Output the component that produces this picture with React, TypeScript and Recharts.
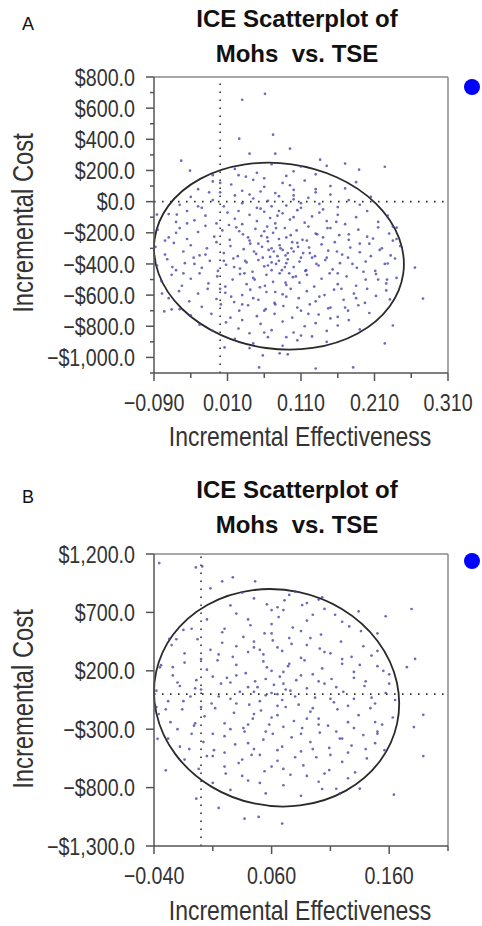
import React from 'react';
import { ScatterChart, Scatter, XAxis, YAxis, ReferenceLine, ReferenceArea, Legend } from 'recharts';

const SANS = '"Liberation Sans", Arial, sans-serif';
const SQUEEZE = 0.82;

// ---------- Panel A ----------
const xTicksA = [-0.09, -0.04, 0.01, 0.06, 0.11, 0.16, 0.21, 0.26, 0.31];
const xLabelsA = [-0.09, 0.01, 0.11, 0.21, 0.31];
const yTicksA = [-1100, -1000, -900, -800, -700, -600, -500, -400, -300, -200, -100, 0, 100, 200, 300, 400, 500, 600, 700, 800];
const yLabelsA = [-1000, -800, -600, -400, -200, 0, 200, 400, 600, 800];
const ellipseA = { x1: -0.09, x2: 0.25, y1: -950, y2: 250, angle: 8 };

const pointsA: [number, number][] = [
  [0.02, 210], [0.05, 185], [0.07, 240], [0.09, 165], [0.11, 225], [0.13, 175], [0.035, 160], [0.1, 195], [0.145, 230], [-0.01, 170],
  [-0.03, 80], [-0.01, 130], [0.0, 60], [0.015, 110], [0.03, 70], [0.045, 140], [0.06, 95], [0.075, 55], [0.085, 120], [0.1, 75], [0.115, 135], [0.13, 60], [0.15, 100], [0.17, 85], [0.185, 125], [0.055, 65], [0.095, 105],
  [-0.055, -20], [-0.04, 30], [-0.025, -40], [-0.01, 10], [0.005, -30], [0.02, 40], [0.03, -10], [0.045, 20], [0.055, -45], [0.065, 5], [0.08, 35], [0.09, -25], [0.1, 15], [0.11, -40], [0.12, 25], [0.135, -15], [0.15, 45], [0.16, -35], [0.175, 10], [0.19, -20], [0.205, 30], [0.07, -30], [0.04, 45],
  [-0.07, -80], [-0.06, -130], [-0.045, -60], [-0.035, -120], [-0.02, -90], [-0.005, -140], [0.01, -70], [0.02, -110], [0.03, -145], [0.04, -85], [0.05, -125], [0.06, -65], [0.068, -105], [0.075, -140], [0.085, -75], [0.095, -115], [0.105, -55], [0.115, -135], [0.125, -95], [0.135, -70], [0.145, -125], [0.16, -85], [0.17, -145], [0.185, -100], [0.2, -60], [0.215, -130], [0.228, -90], [0.078, -90], [0.1, -100],
  [-0.085, -180], [-0.07, -230], [-0.055, -170], [-0.045, -240], [-0.03, -195], [-0.02, -155], [-0.008, -225], [0.003, -185], [0.013, -245], [0.022, -165], [0.031, -210], [0.04, -250], [0.048, -175], [0.056, -220], [0.064, -160], [0.072, -200], [0.08, -240], [0.088, -170], [0.096, -215], [0.104, -185], [0.112, -245], [0.12, -160], [0.13, -205], [0.14, -230], [0.15, -170], [0.162, -215], [0.175, -245], [0.188, -180], [0.2, -225], [0.215, -165], [0.23, -205], [0.24, -240], [0.06, -190], [0.09, -230],
  [-0.088, -290], [-0.075, -340], [-0.063, -265], [-0.05, -320], [-0.04, -280], [-0.028, -345], [-0.018, -300], [-0.005, -260], [0.005, -330], [0.014, -285], [0.024, -350], [0.032, -305], [0.041, -270], [0.049, -335], [0.057, -290], [0.065, -255], [0.073, -320], [0.081, -280], [0.089, -345], [0.097, -300], [0.105, -265], [0.113, -330], [0.121, -295], [0.129, -350], [0.138, -275], [0.147, -315], [0.156, -260], [0.166, -340], [0.177, -295], [0.19, -325], [0.203, -270], [0.217, -310], [0.232, -345], [0.245, -285], [0.07, -300], [0.085, -310], [0.1, -320],
  [-0.086, -410], [-0.072, -370], [-0.06, -440], [-0.048, -395], [-0.036, -360], [-0.025, -425], [-0.014, -380], [-0.003, -445], [0.008, -405], [0.018, -365], [0.027, -430], [0.036, -390], [0.044, -450], [0.052, -375], [0.06, -415], [0.068, -355], [0.076, -400], [0.084, -440], [0.092, -370], [0.1, -420], [0.108, -385], [0.116, -445], [0.125, -360], [0.134, -410], [0.143, -375], [0.153, -435], [0.163, -395], [0.174, -360], [0.186, -425], [0.198, -385], [0.211, -445], [0.224, -400], [0.238, -365], [0.07, -390], [0.08, -380], [0.09, -395], [0.065, -410],
  [-0.08, -510], [-0.066, -470], [-0.052, -540], [-0.04, -495], [-0.028, -460], [-0.016, -525], [-0.004, -480], [0.007, -545], [0.017, -500], [0.027, -465], [0.036, -530], [0.045, -490], [0.054, -550], [0.063, -470], [0.072, -515], [0.081, -460], [0.09, -535], [0.099, -485], [0.108, -520], [0.118, -470], [0.128, -545], [0.138, -495], [0.149, -460], [0.16, -530], [0.172, -480], [0.185, -540], [0.198, -500], [0.212, -465], [0.226, -525], [0.24, -490],
  [-0.07, -620], [-0.056, -575], [-0.042, -640], [-0.03, -590], [-0.017, -560], [-0.005, -625], [0.007, -585], [0.019, -645], [0.03, -600], [0.041, -565], [0.052, -630], [0.063, -580], [0.074, -650], [0.085, -595], [0.096, -560], [0.107, -620], [0.118, -575], [0.13, -640], [0.142, -600], [0.155, -565], [0.168, -630], [0.182, -590], [0.197, -650], [0.212, -605], [0.226, -570],
  [-0.055, -690], [-0.04, -730], [-0.025, -675], [-0.012, -720], [0.001, -660], [0.014, -745], [0.026, -700], [0.038, -665], [0.05, -735], [0.062, -690], [0.074, -720], [0.086, -670], [0.098, -745], [0.11, -700], [0.122, -660], [0.134, -725], [0.147, -685], [0.16, -740], [0.174, -700], [0.188, -665], [0.203, -715],
  [-0.028, -790], [-0.01, -830], [0.008, -775], [0.025, -815], [0.04, -845], [0.055, -785], [0.07, -825], [0.085, -770], [0.1, -840], [0.115, -800], [0.13, -780], [0.145, -830], [0.16, -795], [0.175, -760], [0.19, -820],
  [0.02, -880], [0.045, -910], [0.065, -870], [0.085, -925], [0.105, -890], [0.125, -865], [0.145, -900], [0.04, -940],
  [0.012, -150], [0.026, -190], [0.038, -230], [0.052, -270], [0.066, -310], [0.078, -350], [0.092, -330], [0.106, -290], [0.118, -250], [0.132, -210], [0.146, -170], [0.158, -130],
  [0.005, -380], [0.019, -420], [0.033, -460], [0.047, -500], [0.061, -540], [0.075, -580], [0.089, -520], [0.103, -480], [0.117, -440], [0.131, -400], [0.145, -360], [0.159, -320],
  [0.0, -560], [0.015, -610], [0.03, -660], [0.045, -620], [0.06, -700], [0.075, -660], [0.09, -610], [0.105, -680], [0.12, -720], [0.135, -610], [0.15, -680], [0.165, -560],
  [-0.02, -340], [-0.035, -400], [-0.05, -460], [-0.065, -420], [-0.075, -250], [-0.06, -200], [-0.045, -140], [-0.03, -30], [-0.015, 60], [0.0, 120], [0.025, 170], [0.06, 150],
  [0.18, -400], [0.195, -450], [0.205, -350], [0.22, -300], [0.235, -250], [0.2, -560], [0.185, -620], [0.17, -680], [0.215, -500], [0.19, -270], [0.175, -210], [0.16, -460],
  [0.082, -300], [0.088, -420], [0.094, -460], [0.07, -440], [0.058, -360], [0.046, -320], [0.034, -380], [0.11, -360], [0.122, -330], [0.098, -260], [0.064, -230], [0.076, -170],
  [0.05, -40], [0.08, -60], [0.11, -10], [0.14, -50], [0.025, -60], [0.1, 40], [0.13, 80], [0.09, -870], [0.06, -840], [0.11, -860], [0.03, -760], [0.15, -750],
  [0.061, 692], [0.03, 654], [0.072, 430], [0.026, 404], [0.04, 308], [0.075, 308], [0.095, 340], [-0.053, 263], [-0.041, 199], [0.136, 269], [0.17, 244], [0.224, 224], [0.189, 205],
  [0.265, -423], [0.276, -622], [0.235, -795], [0.224, -910], [0.181, -1064], [0.13, -1071], [0.053, -1064], [0.058, -987], [0.081, -974], [0.092, -980], [0.006, -936],
  [-0.079, -590], [-0.076, -705], [-0.066, -692], [-0.086, -83], [-0.059, -83], [0.235, -160], [0.24, -167], [0.228, -397], [0.227, -500], [0.231, -628], [0.208, -237],
];

// ---------- Panel B ----------
const xTicksB = [-0.04, 0.01, 0.06, 0.11, 0.16, 0.21];
const xLabelsB = [-0.04, 0.06, 0.16];
const yTicksB = [-1300, -800, -300, 200, 700, 1200];
const yLabelsB = [-1300, -800, -300, 200, 700, 1200];
const ellipseB = { x1: -0.04, x2: 0.1685, y1: -962, y2: 900, angle: 12 };

const pointsB: [number, number][] = [
  [0.025, 760], [0.045, 820], [0.06, 720], [0.075, 850], [0.09, 780], [0.105, 730], [0.035, 870], [0.1, 810],
  [-0.008, 560], [0.005, 640], [0.018, 530], [0.03, 690], [0.042, 590], [0.054, 520], [0.066, 660], [0.078, 570], [0.09, 630], [0.102, 510], [0.114, 680], [0.126, 580], [0.136, 540], [0.06, 600], [0.085, 540],
  [-0.025, 420], [-0.014, 350], [-0.003, 470], [0.008, 380], [0.018, 440], [0.027, 320], [0.036, 490], [0.045, 400], [0.053, 340], [0.061, 460], [0.069, 370], [0.077, 430], [0.085, 310], [0.093, 480], [0.101, 390], [0.11, 350], [0.119, 450], [0.128, 320], [0.138, 410], [0.15, 370], [0.065, 400], [0.04, 360],
  [-0.035, 230], [-0.024, 160], [-0.014, 270], [-0.004, 120], [0.005, 210], [0.014, 290], [0.022, 140], [0.03, 250], [0.038, 180], [0.046, 110], [0.053, 280], [0.06, 200], [0.067, 150], [0.074, 240], [0.081, 120], [0.088, 290], [0.095, 170], [0.103, 220], [0.111, 130], [0.12, 260], [0.13, 190], [0.14, 110], [0.15, 240], [0.16, 170], [0.056, 230], [0.07, 190],
  [-0.038, 30], [-0.028, -60], [-0.018, 70], [-0.009, -20], [0.0, 40], [0.009, -80], [0.017, 90], [0.025, -40], [0.033, 20], [0.041, -90], [0.048, 60], [0.055, -10], [0.062, 80], [0.069, -50], [0.076, 30], [0.083, -90], [0.09, 50], [0.097, -30], [0.105, 90], [0.113, -70], [0.121, 20], [0.13, -40], [0.139, 70], [0.148, -80], [0.157, 10], [0.165, -50], [0.06, 10], [0.072, 40], [0.05, -60],
  [-0.036, -170], [-0.026, -240], [-0.016, -130], [-0.006, -270], [0.003, -190], [0.012, -120], [0.02, -250], [0.028, -160], [0.036, -290], [0.044, -210], [0.051, -140], [0.058, -260], [0.065, -180], [0.072, -110], [0.079, -230], [0.086, -290], [0.093, -150], [0.1, -210], [0.108, -270], [0.116, -130], [0.125, -240], [0.134, -180], [0.144, -120], [0.154, -260], [0.163, -200], [0.06, -200], [0.045, -170],
  [-0.028, -380], [-0.018, -450], [-0.008, -340], [0.002, -410], [0.011, -480], [0.02, -360], [0.029, -430], [0.037, -320], [0.045, -470], [0.053, -390], [0.061, -340], [0.069, -450], [0.077, -370], [0.085, -490], [0.093, -410], [0.101, -330], [0.109, -460], [0.118, -380], [0.128, -440], [0.138, -350], [0.148, -420], [0.156, -480],
  [-0.014, -560], [-0.002, -640], [0.01, -530], [0.021, -680], [0.032, -590], [0.043, -520], [0.054, -660], [0.065, -570], [0.076, -690], [0.087, -610], [0.098, -540], [0.109, -650], [0.12, -580], [0.131, -670], [0.141, -550],
  [0.01, -760], [0.025, -820], [0.04, -740], [0.055, -850], [0.07, -780], [0.085, -870], [0.1, -750], [0.115, -810],
  [0.0, 300], [0.015, 340], [0.03, 410], [0.045, 450], [0.06, 520], [0.075, 480], [0.09, 420], [0.105, 360], [0.12, 300], [0.135, 250], [0.145, 330], [0.155, 200],
  [-0.02, 100], [-0.005, 50], [0.01, 150], [0.025, 100], [0.04, 60], [0.055, 130], [0.07, 90], [0.085, 160], [0.1, 110], [0.115, 60], [0.13, 140], [0.16, 90],
  [-0.03, -130], [-0.015, -60], [0.0, -110], [0.015, -20], [0.03, -80], [0.045, 20], [0.065, -100], [0.08, -20], [0.095, -120], [0.11, -40], [0.125, -100], [0.145, -30],
  [-0.02, -300], [-0.005, -250], [0.01, -340], [0.025, -300], [0.04, -260], [0.055, -320], [0.07, -280], [0.085, -340], [0.1, -260], [0.115, -320], [0.13, -290], [0.15, -320],
  [-0.01, -470], [0.005, -530], [0.02, -500], [0.035, -560], [0.05, -520], [0.065, -480], [0.08, -540], [0.095, -470], [0.11, -520], [0.125, -500], [0.14, -470], [0.06, -620],
  [0.02, -620], [0.035, -700], [0.05, -760], [0.07, -640], [0.09, -700], [0.105, -680], [0.125, -720], [0.02, 560], [0.04, 640], [0.07, 720], [0.095, 680], [0.12, 620],
  [0.15, 520], [-0.015, 550], [0.08, 880], [0.05, 380], [0.03, 160], [0.075, 260], [0.09, -210], [0.04, -420], [0.12, -380], [0.065, 0],
  [-0.0355, 1122], [-0.0044, 1085], [0.001, 1094], [0.008, 906], [0.018, 966], [0.027, 1000], [0.046, 966], [0.103, 829], [0.134, 709], [0.157, 667], [0.179, 729], [0.182, 302], [0.175, 231],
  [0.189, -177], [0.181, -282], [0.189, -530], [0.164, -861], [0.148, -239], [0.15, -339], [0.135, -809], [0.118, -852], [0.103, -812], [0.069, -1108], [0.049, -1051], [0.037, -1066], [0.015, -974], [-0.004, -895],
  [-0.03, -652], [-0.037, -382], [-0.038, -111], [-0.034, 248], [-0.024, 231], [-0.027, 473], [-0.021, 470], [0.071, 803], [0.065, 744], [0.056, 769], [0.086, 763],
];

const dataA = pointsA.map(([x, y]) => ({ x, y }));
const dataB = pointsB.map(([x, y]) => ({ x, y }));

const fmtMoney = (v: number) =>
  (v < 0 ? '\u2212' : '') + '$' + Math.abs(v).toLocaleString('en-US', { minimumFractionDigits: 1, maximumFractionDigits: 1 });
const fmtEff = (v: number) => (v < 0 ? '\u2212' : '') + Math.abs(v).toFixed(3);

const XTick = (props: any) => {
  const { x, y, payload, labels } = props;
  const major = labels.includes(payload.value);
  return (
    <g>
      <line x1={x} x2={x} y1={y} y2={y + (major ? 8 : 5)} stroke="#555" strokeWidth={1.5} />
      {major && (
        <text transform={`translate(${x} ${y + 38}) scale(${SQUEEZE} 1)`} x={0} y={0} textAnchor="middle" fontSize={24} fontFamily={SANS} fill="#333">
          {fmtEff(payload.value)}
        </text>
      )}
    </g>
  );
};

const YTick = (props: any) => {
  const { x, y, payload, labels } = props;
  const major = labels.includes(payload.value);
  return (
    <g>
      <line x1={x - (major ? 8 : 4)} x2={x} y1={y} y2={y} stroke="#555" strokeWidth={1.5} />
      {major && (
        <text transform={`translate(${x - 19} ${y}) scale(${SQUEEZE} 1)`} x={0} y={0} dy="0.36em" textAnchor="end" fontSize={24} fontFamily={SANS} fill="#333">
          {fmtMoney(payload.value)}
        </text>
      )}
    </g>
  );
};

const Dot = (props: any) => <circle cx={props.cx} cy={props.cy} r={1.35} fill="#4646a8" fillOpacity={0.8} />;

const makeEllipse = (angle: number) => (p: any) => {
  const W = Math.abs(p.width) / 2;
  const H = Math.abs(p.height) / 2;
  const cx = p.x + p.width / 2;
  const cy = p.y + p.height / 2;
  const t = (angle * Math.PI) / 180;
  const c2 = Math.cos(2 * t);
  const s = W * W + H * H;
  const d = (W * W - H * H) / c2;
  const rx = Math.sqrt((s + d) / 2);
  const ry = Math.sqrt((s - d) / 2);
  return (
    <ellipse cx={cx} cy={cy} rx={rx} ry={ry} transform={`rotate(${angle} ${cx} ${cy})`} fill="none" stroke="#2a2a2a" strokeWidth={1.8} />
  );
};

const LegendDot = () => (
  <svg width={18} height={18}>
    <circle cx={9} cy={9} r={8} fill="#0000ff" />
  </svg>
);

const H = 463;

function Panel(props: any) {
  const { top, data, xDomain, yDomain, xTicks, xLabels, yTicks, yLabels, plotTop, plotBottom, ell, legendTop } = props;
  return (
    <div style={{ position: 'absolute', left: 0, top, width: 482, height: H }}>
      <ScatterChart width={482} height={H} margin={{ top: plotTop, right: 34, bottom: H - plotBottom - 30, left: 0 }}>
        <XAxis
          type="number"
          dataKey="x"
          domain={xDomain}
          ticks={xTicks}
          interval={0}
          allowDataOverflow
          height={30}
          tickSize={0}
          tickMargin={0}
          tickLine={false}
          axisLine={{ stroke: '#555', strokeWidth: 1.5 }}
          tick={(p: any) => <XTick {...p} labels={xLabels} />}
        />
        <YAxis
          type="number"
          dataKey="y"
          domain={yDomain}
          ticks={yTicks}
          interval={0}
          allowDataOverflow
          width={154}
          tickSize={0}
          tickMargin={0}
          tickLine={false}
          axisLine={{ stroke: '#555', strokeWidth: 1.5 }}
          tick={(p: any) => <YTick {...p} labels={yLabels} />}
        />
        <ReferenceLine y={yDomain[1]} stroke="#8a8a8a" strokeWidth={1.5} />
        <ReferenceLine x={xDomain[1]} stroke="#8a8a8a" strokeWidth={1.5} />
        <ReferenceLine x={0} stroke="#333" strokeWidth={1.6} strokeDasharray="1.6 6.4" />
        <ReferenceLine y={0} stroke="#333" strokeWidth={1.6} strokeDasharray="1.6 6.4" />
        <Scatter data={data} isAnimationActive={false} shape={Dot} />
        <ReferenceArea x1={ell.x1} x2={ell.x2} y1={ell.y1} y2={ell.y2} ifOverflow="visible" shape={makeEllipse(ell.angle)} />
        <Legend
          layout="vertical"
          align="center"
          verticalAlign="middle"
          content={LegendDot}
          wrapperStyle={{ position: 'absolute', left: 463, top: legendTop, width: 18, height: 18 }}
        />
      </ScatterChart>
    </div>
  );
}

const TitleBlock = (props: any) => {
  const { letter, letterY, line1Y, line2Y } = props;
  return (
    <g>
      <text x={22} y={letterY} fontSize={18} fontFamily={SANS} fill="#111">{letter}</text>
      <text x={297} y={line1Y} textAnchor="middle" fontSize={24} fontWeight="bold" fontFamily={SANS} fill="#111">ICE Scatterplot of</text>
      <text x={297} y={line2Y} textAnchor="middle" fontSize={24} fontWeight="bold" fontFamily={SANS} fill="#111" style={{ whiteSpace: 'pre' }}>Mohs  vs. TSE</text>
    </g>
  );
};

const AxisTitles = (props: any) => {
  const { xTitleY, yTitleY } = props;
  return (
    <g>
      <text transform={`translate(300 ${xTitleY}) scale(${SQUEEZE} 1)`} x={0} y={0} textAnchor="middle" fontSize={28} fontFamily={SANS} fill="#333">Incremental Effectiveness</text>
      <text transform={`translate(33 ${yTitleY}) rotate(-90) scale(${SQUEEZE} 1)`} x={0} y={0} textAnchor="middle" fontSize={29} fontFamily={SANS} fill="#333">Incremental Cost</text>
    </g>
  );
};

export default function App() {
  return (
    <div style={{ position: 'absolute', left: 0, top: 0, width: 482, height: 926, background: '#fff' }}>
      <Panel
        top={0}
        data={dataA}
        xDomain={[-0.09, 0.31]}
        yDomain={[-1100, 800]}
        xTicks={xTicksA}
        xLabels={xLabelsA}
        yTicks={yTicksA}
        yLabels={yLabelsA}
        plotTop={77}
        plotBottom={373}
        ell={ellipseA}
        legendTop={78}
      />
      <Panel
        top={H}
        data={dataB}
        xDomain={[-0.04, 0.21]}
        yDomain={[-1300, 1200]}
        xTicks={xTicksB}
        xLabels={xLabelsB}
        yTicks={yTicksB}
        yLabels={yLabelsB}
        plotTop={91}
        plotBottom={383}
        ell={ellipseB}
        legendTop={89}
      />
      <svg width={482} height={926} style={{ position: 'absolute', left: 0, top: 0, pointerEvents: 'none' }}>
        <TitleBlock letter="A" letterY={30} line1Y={27} line2Y={62} />
        <AxisTitles xTitleY={446} yTitleY={223} />
        <TitleBlock letter="B" letterY={503} line1Y={498} line2Y={533} />
        <AxisTitles xTitleY={920} yTitleY={699} />
      </svg>
    </div>
  );
}
